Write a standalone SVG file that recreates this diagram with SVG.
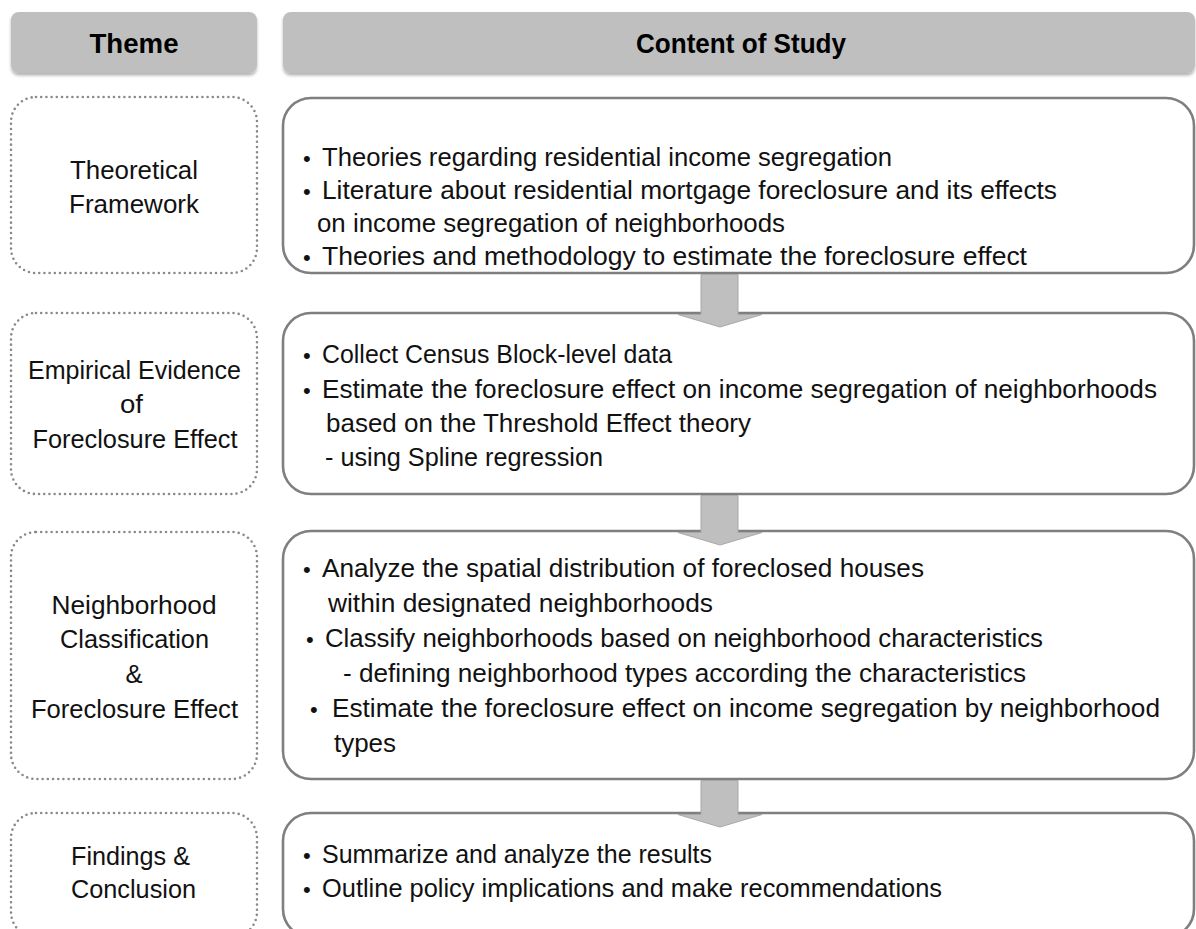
<svg xmlns="http://www.w3.org/2000/svg" width="1196" height="929" viewBox="0 0 1196 929">
<defs>
<filter id="sh" x="-5%" y="-20%" width="110%" height="150%">
<feDropShadow dx="0" dy="2.5" stdDeviation="1.5" flood-color="#000" flood-opacity="0.3"/>
</filter>
</defs>
<style>
.hdr{fill:#bfbfbf;filter:url(#sh)}
.ht{font-family:"Liberation Sans",Arial,sans-serif;font-weight:bold;font-size:27px;fill:#000;text-anchor:middle}
.tb{fill:#fff;stroke:#8a8a8a;stroke-width:2.6;stroke-dasharray:0 5.2;stroke-linecap:round}
.cb{fill:#fff;stroke:#7f7f7f;stroke-width:2.6}
.tt{font-family:"Liberation Sans",Arial,sans-serif;font-size:25.5px;fill:#111;text-anchor:middle}
.ct{font-family:"Liberation Sans",Arial,sans-serif;font-size:25.5px;fill:#111}
.bu{font-family:"Liberation Sans",Arial,sans-serif;font-size:22px;fill:#111}
.arr{fill:#bfbfbf;stroke:#a8a8a8;stroke-width:1}
</style>
<rect width="1196" height="929" fill="#fff"/>
<g id="header-theme">
<rect class="hdr" x="11" y="12" width="246" height="61" rx="8"/>
<text class="ht" x="134" y="53" textLength="89" lengthAdjust="spacingAndGlyphs">Theme</text>
</g>
<g id="header-content">
<rect class="hdr" x="283" y="12" width="912" height="61" rx="8"/>
<text class="ht" x="741" y="53" textLength="210" lengthAdjust="spacingAndGlyphs">Content of Study</text>
</g>
<g id="theme1">
<rect class="tb" x="11" y="97" width="246" height="176" rx="25"/>
<text class="tt" x="134" y="179" textLength="128" lengthAdjust="spacingAndGlyphs">Theoretical</text>
<text class="tt" x="134" y="213" textLength="130" lengthAdjust="spacingAndGlyphs">Framework</text>
</g>
<g id="theme2">
<rect class="tb" x="11" y="313" width="246" height="181" rx="25"/>
<text class="tt" x="134.5" y="379" textLength="213" lengthAdjust="spacingAndGlyphs">Empirical Evidence</text>
<text class="tt" x="131.5" y="413" textLength="23" lengthAdjust="spacingAndGlyphs">of</text>
<text class="tt" x="135" y="448" textLength="205" lengthAdjust="spacingAndGlyphs">Foreclosure Effect</text>
</g>
<g id="theme3">
<rect class="tb" x="11" y="532" width="246" height="247" rx="25"/>
<text class="tt" x="134" y="614" textLength="165" lengthAdjust="spacingAndGlyphs">Neighborhood</text>
<text class="tt" x="134.5" y="648" textLength="149" lengthAdjust="spacingAndGlyphs">Classification</text>
<text class="tt" x="134" y="683">&amp;</text>
<text class="tt" x="134.5" y="718" textLength="207" lengthAdjust="spacingAndGlyphs">Foreclosure Effect</text>
</g>
<g id="theme4">
<rect class="tb" x="11" y="813" width="246" height="124" rx="25"/>
<text class="tt" x="130.5" y="865" textLength="119" lengthAdjust="spacingAndGlyphs">Findings &amp;</text>
<text class="tt" x="133.5" y="898" textLength="125" lengthAdjust="spacingAndGlyphs">Conclusion</text>
</g>
<g id="content1">
<rect class="cb" x="283" y="98" width="911" height="175" rx="28"/>
<text class="bu" x="303" y="166">•</text>
<text class="ct" x="322" y="166" textLength="570" lengthAdjust="spacingAndGlyphs">Theories regarding residential income segregation</text>
<text class="bu" x="303" y="199">•</text>
<text class="ct" x="322" y="199" textLength="735" lengthAdjust="spacingAndGlyphs">Literature about residential mortgage foreclosure and its effects</text>
<text class="ct" x="317" y="232" textLength="468" lengthAdjust="spacingAndGlyphs">on income segregation of neighborhoods</text>
<text class="bu" x="303" y="265">•</text>
<text class="ct" x="322" y="265" textLength="705" lengthAdjust="spacingAndGlyphs">Theories and methodology to estimate the foreclosure effect</text>
</g>
<g id="content2">
<rect class="cb" x="283" y="313" width="911" height="181" rx="28"/>
<text class="bu" x="303" y="363">•</text>
<text class="ct" x="322" y="363" textLength="350" lengthAdjust="spacingAndGlyphs">Collect Census Block-level data</text>
<text class="bu" x="303" y="398">•</text>
<text class="ct" x="322" y="398" textLength="835" lengthAdjust="spacingAndGlyphs">Estimate the foreclosure effect on income segregation of neighborhoods</text>
<text class="ct" x="326" y="432" textLength="425" lengthAdjust="spacingAndGlyphs">based on the Threshold Effect theory</text>
<text class="ct" x="325" y="466" textLength="278" lengthAdjust="spacingAndGlyphs">- using Spline regression</text>
</g>
<g id="content3">
<rect class="cb" x="283" y="531" width="911" height="248" rx="28"/>
<text class="bu" x="303" y="577">•</text>
<text class="ct" x="322" y="577" textLength="602" lengthAdjust="spacingAndGlyphs">Analyze the spatial distribution of foreclosed houses</text>
<text class="ct" x="328" y="612" textLength="385" lengthAdjust="spacingAndGlyphs">within designated neighborhoods</text>
<text class="bu" x="306" y="647">•</text>
<text class="ct" x="325" y="647" textLength="718" lengthAdjust="spacingAndGlyphs">Classify neighborhoods based on neighborhood characteristics</text>
<text class="ct" x="343" y="682" textLength="683" lengthAdjust="spacingAndGlyphs">- defining neighborhood types according the characteristics</text>
<text class="bu" x="310" y="717">•</text>
<text class="ct" x="332" y="717" textLength="828" lengthAdjust="spacingAndGlyphs">Estimate the foreclosure effect on income segregation by neighborhood</text>
<text class="ct" x="334" y="752" textLength="62" lengthAdjust="spacingAndGlyphs">types</text>
</g>
<g id="content4">
<rect class="cb" x="283" y="813" width="911" height="124" rx="28"/>
<text class="bu" x="303" y="863">•</text>
<text class="ct" x="322" y="863" textLength="390" lengthAdjust="spacingAndGlyphs">Summarize and analyze the results</text>
<text class="bu" x="303" y="897">•</text>
<text class="ct" x="322" y="897" textLength="620" lengthAdjust="spacingAndGlyphs">Outline policy implications and make recommendations</text>
</g>
<g id="connectors">
<path class="arr" d="M701,274.5 V314.5 H678 L720,327 L762,314.5 H738 V274.5 Z"/>
<path class="arr" d="M701,495.5 V532.5 H678 L720,545 L762,532.5 H738 V495.5 Z"/>
<path class="arr" d="M701,780.5 V814.5 H678 L720,827 L762,814.5 H738 V780.5 Z"/>
</g>
</svg>
